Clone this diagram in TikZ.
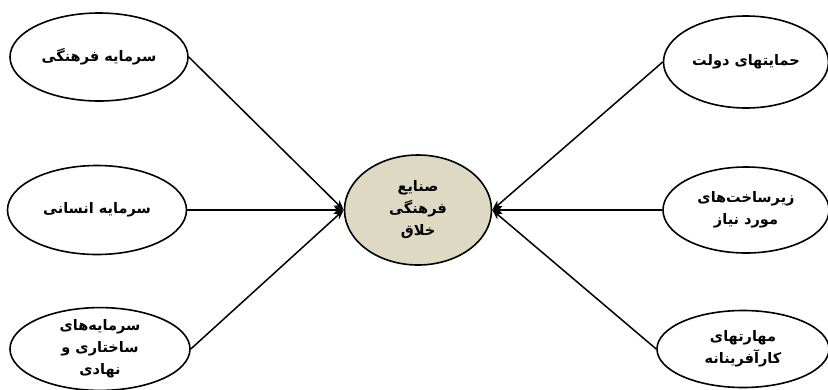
\documentclass[tikz,border=0pt]{standalone}
\usepackage{fontspec}
\newfontfamily\arabicfont[Script=Arabic]{DejaVu Sans}
\TeXXeTstate=1
\usetikzlibrary{shapes.geometric,arrows.meta}
\newcommand{\rl}[1]{\beginR #1\endR}
\definecolor{beige}{RGB}{221,217,195}
\begin{document}
\begin{tikzpicture}[x=1pt,y=-1pt,
  oval/.style={ellipse, draw=black, line width=1.6pt, inner sep=0pt, align=center,
    font=\arabicfont\bfseries\fontsize{14.5}{22}\selectfont},
  arr/.style={line width=1.5pt, -{Stealth[length=10pt,width=8pt]}}]
\useasboundingbox (0,0) rectangle (828,389);
\node[oval, minimum width=178pt, minimum height=88pt] (l1) at (99,57) {\rl{سرمایه فرهنگی}};
\node[oval, minimum width=179pt, minimum height=89pt] (l2) at (97,210) {\rl{سرمایه انسانی}};
\node[oval, minimum width=180pt, minimum height=80pt] (l3) at (100,349) {\rl{سرمایه‌های}\\\rl{ساختاری و}\\\rl{نهادی}};
\node[oval, minimum width=165pt, minimum height=92pt] (r1) at (746,62) {\rl{حمایتهای دولت}};
\node[oval, minimum width=166pt, minimum height=86pt] (r2) at (746,210) {\rl{زیرساخت‌های}\\\rl{مورد نیاز}};
\node[oval, minimum width=172pt, minimum height=77pt] (r3) at (743,349) {\rl{مهارتهای}\\\rl{کارآفرینانه}};
\node[oval, fill=beige, minimum width=147pt, minimum height=110pt] (c) at (418,210) {\rl{صنایع}\\\rl{فرهنگی}\\\rl{خلاق}};
\draw[arr] (l1.east) -- (c.west);
\draw[arr] (l2.east) -- (c.west);
\draw[arr] (l3.east) -- (c.west);
\draw[arr] (r1.west) -- (c.east);
\draw[arr] (r2.west) -- (c.east);
\draw[arr] (r3.west) -- (c.east);
\end{tikzpicture}
\end{document}
